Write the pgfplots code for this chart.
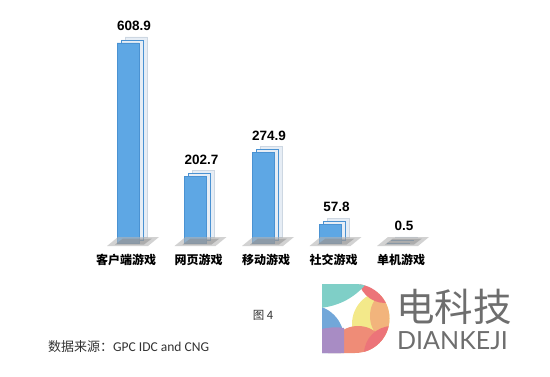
\documentclass[border=0pt]{standalone}
\usepackage{pgfplots}
\pgfplotsset{compat=1.18}
\usepackage{fontspec}
\setmainfont{Liberation Sans}
\newfontfamily\cjk{Noto Sans CJK SC}
\newfontfamily\carl{Carlito}
\newfontfamily\lato{Lato}
\definecolor{barblue}{HTML}{5EA7E4}
\definecolor{baredge}{HTML}{4A92D2}
\definecolor{backface}{HTML}{E6EDF5}
\definecolor{backedge}{HTML}{CDD7E2}
\definecolor{floorA}{HTML}{B4B4B4}
\definecolor{floorB}{HTML}{8A8A8A}
\definecolor{logogrey}{HTML}{6E6E6E}
\definecolor{cteal}{HTML}{7FCFC7}
\definecolor{cblue}{HTML}{72A7D9}
\definecolor{cpurple}{HTML}{A88CC4}
\definecolor{csalmon}{HTML}{EF8C77}
\definecolor{cred}{HTML}{EC7479}
\definecolor{cyellow}{HTML}{F3E98A}
\definecolor{corange}{HTML}{F2B47C}
\definecolor{txt}{HTML}{333333}
\pgfdeclareplotmark{floor}{%
  \pgfsetfillcolor{floorA}\pgfsetfillopacity{0.6}%
  \pgfpathmoveto{\pgfpoint{-21bp}{-3bp}}%
  \pgfpathlineto{\pgfpoint{20bp}{-3bp}}%
  \pgfpathlineto{\pgfpoint{31bp}{6bp}}%
  \pgfpathlineto{\pgfpoint{-10bp}{6bp}}%
  \pgfpathclose\pgfusepath{fill}%
  \pgfsetfillcolor{floorB}\pgfsetfillopacity{0.5}%
  \pgfpathmoveto{\pgfpoint{-13bp}{-1.5bp}}%
  \pgfpathlineto{\pgfpoint{16bp}{-1.5bp}}%
  \pgfpathlineto{\pgfpoint{24bp}{4.5bp}}%
  \pgfpathlineto{\pgfpoint{-5bp}{4.5bp}}%
  \pgfpathclose\pgfusepath{fill}%
}
\begin{document}
\begin{tikzpicture}[x=1bp,y=1bp]
\path[use as bounding box, fill=white] (0,0) rectangle (550,376);
\begin{axis}[
  at={(60.5bp,133bp)}, anchor=south west,
  scale only axis, width=405bp, height=230bp,
  xmin=-1, xmax=5, ymin=0, ymax=700,
  clip=false,
  hide y axis,
  axis x line=bottom,
  x axis line style={draw=none},
  major tick length=0pt,
  xtick=data,
  xticklabels={\hspace*{-10bp}客户端游戏, 网页游戏, 移动游戏, 社交游戏, 单机游戏},
  xticklabel style={font=\cjk\bfseries\fontsize{12bp}{14bp}\selectfont, text=black, yshift=-8bp, xshift=3bp},
]
\addplot[ybar, bar width=22bp, fill=barblue, draw=baredge, line width=0.4bp,
  preaction={transform canvas={shift={(8bp,6bp)}}, fill=backface, draw=backedge, line width=0.5bp},
  preaction={transform canvas={shift={(4bp,3bp)}}, fill=backface},
  point meta=y,
  nodes near coords={\bfseries\pgfmathprintnumber[assume math mode=true,fixed,fixed zerofill,precision=1]{\pgfplotspointmeta}},
  nodes near coords style={font=\fontsize{13.5bp}{15bp}\selectfont, text=black, anchor=south, inner sep=0pt, yshift=12bp, xshift=6bp},
] coordinates {(0,608.9) (1,202.7) (2,274.9) (3,57.8) (4,0.5)};
\addplot[only marks, mark=floor, forget plot] coordinates {(0,0) (1,0) (2,0) (3,0) (4,0)};
\end{axis}
% caption and source
\node[font=\cjk\fontsize{11.5bp}{13bp}\selectfont, text=txt, inner sep=0pt] at (263,61) {图 4};
\node[anchor=west, inner sep=0pt, text=txt] at (48,29) {{\cjk\fontsize{13bp}{15bp}\selectfont 数据来源：}{\carl\fontsize{13.5bp}{15bp}\selectfont GPC IDC and CNG}};
% logo
\begin{scope}
\clip (322,23) -- (322,92) -- (355,92) arc[start angle=90, end angle=-90, radius=34.5] -- cycle;
\fill[white] (300,0) rectangle (400,100);
\fill[cyellow] (385,52) circle[radius=33];
\fill[corange] (400,60) circle[radius=30];
\fill[cred] (385,100) circle[radius=27];
\fill[csalmon] (358,20) circle[radius=30];
\fill[cred] (392,22) circle[radius=28];
\fill[cblue] (310,37) circle[radius=34];
\fill[cpurple] (322,10) -- (322,47) .. controls (330,49) and (338,49) .. (344,48) -- (344,10) -- cycle;
\fill[cteal] (315,134) circle[radius=66];
\end{scope}
\node[font=\cjk\fontsize{38.5bp}{40bp}\selectfont, text=logogrey, inner sep=0pt] at (454,69) {电科技};
\node[font=\lato\fontsize{25bp}{27bp}\selectfont, text=logogrey, inner sep=0pt, anchor=base west] at (397,27) {DIANKEJI};
\end{tikzpicture}
\end{document}
